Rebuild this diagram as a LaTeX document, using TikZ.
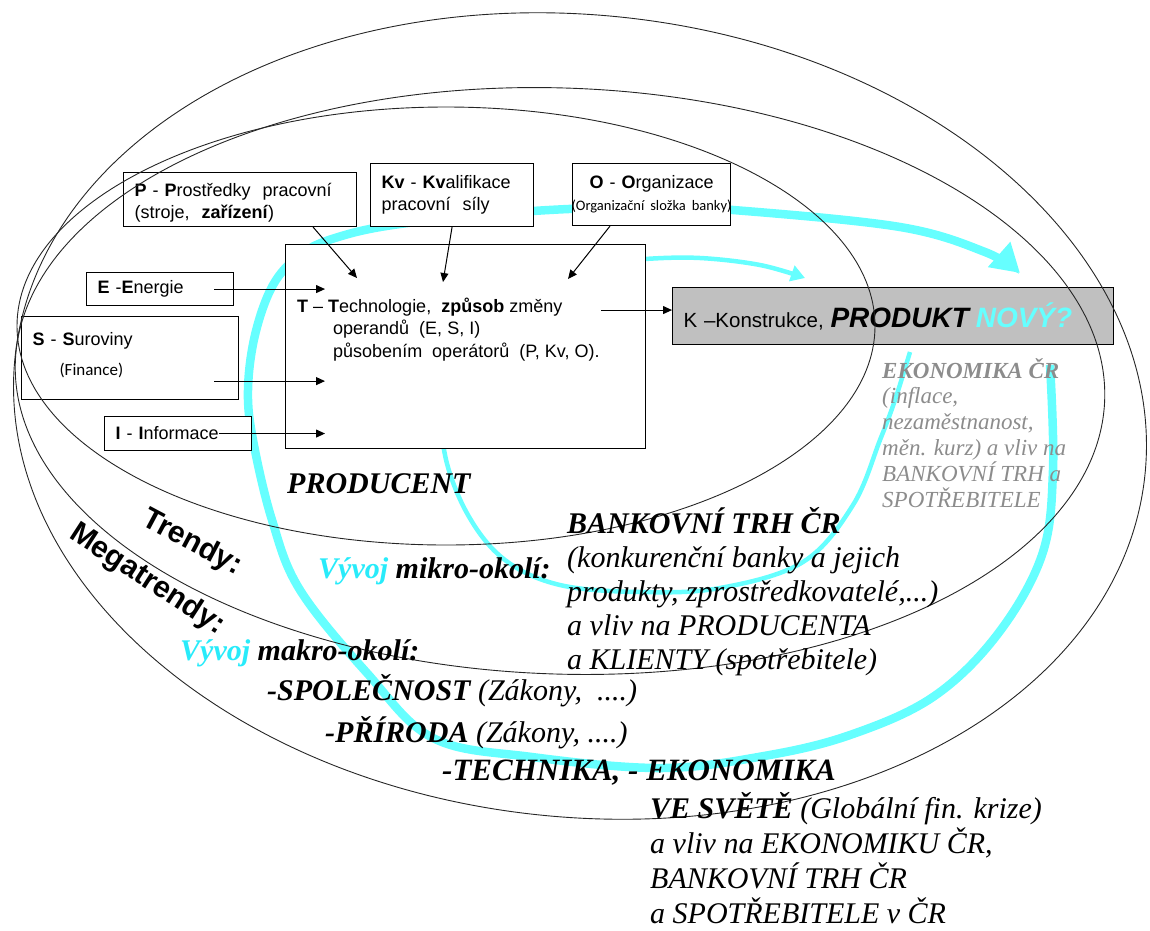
\documentclass[tikz,border=0pt]{standalone}
\usepackage{fontspec}
\setmainfont{Liberation Serif}
\setsansfont{Liberation Sans}
\newfontfamily\calibri{Carlito}
\usetikzlibrary{arrows.meta, positioning, calc}
\usepackage{xcolor}
\definecolor{Flow}{RGB}{102, 255, 255}
\definecolor{VyvojC}{RGB}{40, 235, 250}
\definecolor{Konst}{RGB}{192, 192, 192}
\definecolor{Econ}{RGB}{140, 140, 140}
\newcommand{\fsz}[2]{\fontsize{#1}{#2}\selectfont}
\tikzset{
    factor/.style={
        rectangle, draw=black, line width=1.1pt, fill=white,
        anchor=north west, align=left, inner xsep=11pt, inner ysep=0pt,
        font=\sffamily\fsz{18}{22}
    },
    sphere/.style={draw=black!85, line width=0.9pt},
    arrow/.style={line width=1pt, -{Triangle[length=9pt, width=8pt]}},
    flow/.style={draw=Flow, line width=8.5pt},
    thinflow/.style={draw=Flow, line width=4.5pt},
    note/.style={anchor=base west, inner sep=0pt, align=left},
    trend/.style={font=\sffamily\bfseries\fsz{30}{36}, inner sep=0pt}
}

\begin{document}
\begin{tikzpicture}[x=1pt, y=-1pt]
    \useasboundingbox (0,0) rectangle (1150,930);

    % cyan flows (under the boxes)
    \coordinate (flowstart) at (1050,365);
    \coordinate (flowtip) at (1020,273);
    \draw[flow, -{Triangle[length=28pt, width=32pt]}] plot[smooth, tension=0.6] coordinates {
        (flowstart) (1053,470) (1042,555) (997,635) (933,697) (850,735) (764,756)
        (661,768) (532,757) (433,738) (367,673) (300,590) (272,520) (253,440)
        (248,390) (255,335) (273,285) (300,255) (335,238) (400,224) (533,211)
        (650,207) (733,210) (900,227) (985,252) (flowtip)};
    \coordinate (loopstart) at (910,352);
    \coordinate (looptip) at (805,278);
    \draw[thinflow, -{Triangle[length=14pt, width=16pt]}] plot[smooth, tension=0.6] coordinates {
        (loopstart) (895,400) (880,440) (853,505) (803,562) (720,588) (640,592)
        (560,585) (505,560) (468,515) (445,455) (445,400) (475,330) (540,285)
        (610,264) (645,259) (700,258) (760,265) (looptip)};

    % operators and operands
    \node[factor, minimum width=233pt, minimum height=54pt, text width=211pt, text depth=20pt] (P) at (123,172)
        {\textbf{P} - \textbf{P}rostředky\ \ pracovní\\(stroje,\ \ \textbf{zařízení})};
    \node[factor, minimum width=163pt, minimum height=63pt, text width=141pt] (Kv) at (370,163)
        {\textbf{Kv} - \textbf{Kv}alifikace\\pracovní\ \ síly};
    \node[factor, minimum width=158pt, minimum height=62pt, text width=158pt, inner xsep=0pt, align=center] (O) at (572,163)
        {\textbf{O} - \textbf{O}rganizace\\\makebox[158pt][c]{\calibri\fsz{14.5}{17}(Organizační složka banky)}};
    \node[factor, minimum width=147pt, minimum height=33pt, text width=125pt] (E) at (86,272)
        {\textbf{E} -\textbf{E}nergie};
    \node[factor, minimum width=217pt, minimum height=83pt, text width=195pt, text depth=38pt] (S) at (21,316)
        {\textbf{S} - \textbf{S}uroviny\\[8pt]\hspace*{27pt}{\calibri\fsz{17}{20}(Finance)}};
    \node[factor, minimum width=147pt, minimum height=34pt, text width=125pt] (I) at (104,416)
        {\textbf{I} - \textbf{I}nformace};

    % technology
    \node[factor, minimum width=360pt, minimum height=204pt] (T) at (285,244) {};
    \node[note, font=\sffamily\fsz{18}{22.5}] (Ttext) at ($(T.north west)+(12,113)$)
        {\textbf{T} – \textbf{T}echnologie,\ \ \textbf{způsob}\ změny\\
         \hspace*{36pt}operandů\ \ (E, S, I)\\
         \hspace*{36pt}působením\ \ operátorů\ \ (P, Kv, O).};

    % construction
    \node[factor, fill=Konst, minimum width=441pt, minimum height=57pt, text width=419pt, font=\sffamily\fsz{20.5}{24}] (K) at (672,287)
        {K –Konstrukce, {\bfseries\itshape\fsz{28}{30}PRODUKT \textcolor{Flow}{NOVÝ?}}};

    % environments
    \draw[sphere] (446,326) ellipse [x radius=429, y radius=219];
    \draw[sphere, rotate around={-2:(560,381)}] (560,381) ellipse [x radius=545, y radius=293];
    \draw[sphere, rotate around={-6:(580,416)}] (580,416) ellipse [x radius=568, y radius=401];

    % inputs
    \draw[arrow] ($(E.east)+(-20,0)$) -- ($(T.west |- E.east)+(40,0)$);
    \draw[arrow] ($(S.south east)+(-25,-19)$) -- ($(T.west |- S.south east)+(40,-19)$);
    \draw[arrow] ($(I.east)+(-33,0)$) -- ($(T.west |- I.east)+(40,0)$);
    \draw[arrow] ($(P.south east)+(-44,0)$) -- ($(T.north west)+(72,34)$);
    \draw[arrow] (Kv.south) -- ($(T.north west)+(158,38)$);
    \draw[arrow] ($(O.south west)+(38,0)$) -- ($(T.north west)+(283,35)$);
    \coordinate (kin) at ($(K.west)+(0,-6)$);
    \draw[arrow] ($(T.east |- kin)+(-45,0)$) -- (kin);

    % labels (multi-line notes sit on their last baseline)
    \node[note, font=\bfseries\itshape\fsz{30}{34}] (prod) at (287,493) {PRODUCENT};
    \node[trend, rotate=-28] (trendy) at (192,543) {Trendy:};
    \node[trend, rotate=-33] (mega) at (147,580) {Megatrendy:};
    \node[note, font=\bfseries\itshape\fsz{30}{34}] (mikro) at (318,578)
        {\textcolor{VyvojC}{Vývoj} mikro-okolí:};
    \node[note, font=\itshape\fsz{30}{34}] (banktrh) at (567,669)
        {\textbf{BANKOVNÍ TRH ČR}\\(konkurenční banky a jejich\\produkty, zprostředkovatelé,...)\\a vliv na PRODUCENTA\\a KLIENTY (spotřebitele)};
    \node[note, font=\bfseries\itshape\fsz{30}{34}] (makro) at (180,660)
        {\textcolor{VyvojC}{Vývoj} makro-okolí:};
    \node[note, font=\itshape\fsz{30}{34}] (spol) at (267,700) {\textbf{-SPOLEČNOST} (Zákony,\ \ ....)};
    \node[note, font=\itshape\fsz{30}{34}] (prir) at (325,742) {\textbf{-PŘÍRODA} (Zákony, ....)};
    \node[note, font=\bfseries\itshape\fsz{31}{34}] (tech) at (442,780) {-TECHNIKA, - EKONOMIKA};
    \node[note, font=\itshape\fsz{30}{35}] (svet) at (650,923)
        {\textbf{VE SVĚTĚ} (Globální fin. krize)\\a vliv na EKONOMIKU ČR,\\BANKOVNÍ TRH ČR\\a SPOTŘEBITELE v ČR};
    \node[note, font=\itshape\fsz{23}{25.8}, text=Econ] (ekon) at (882,507)
        {\textbf{EKONOMIKA ČR}\\(inflace,\\nezaměstnanost,\\měn. kurz) a vliv na\\BANKOVNÍ TRH a\\SPOTŘEBITELE};

\end{tikzpicture}
\end{document}
